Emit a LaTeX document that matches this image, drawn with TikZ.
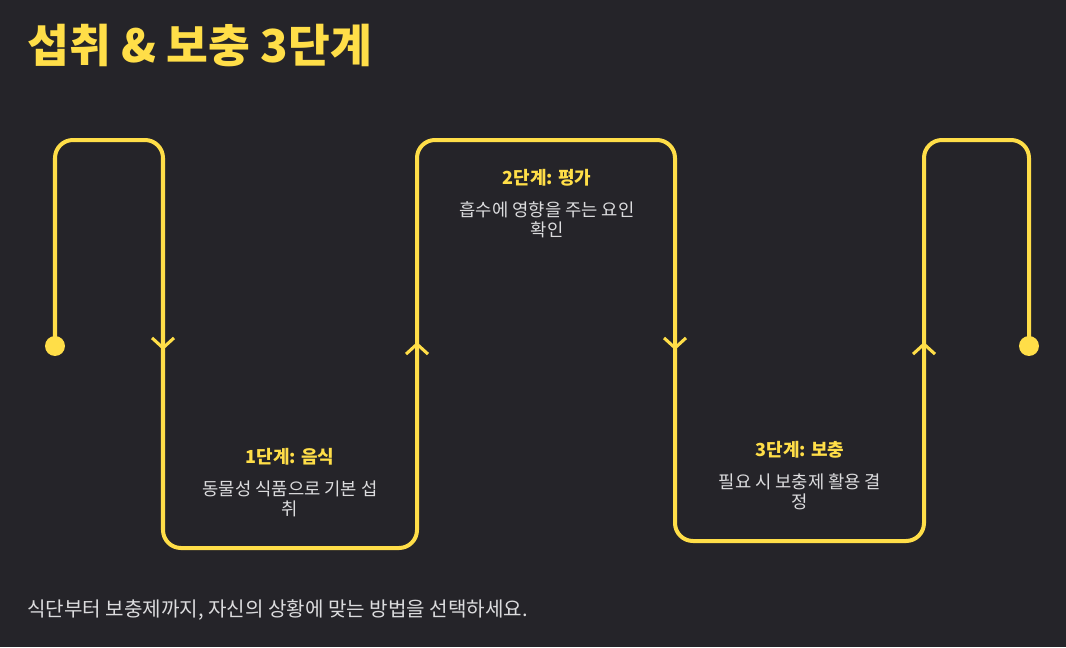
\documentclass[tikz,border=0pt]{standalone}
\usepackage{fontspec}
\setmainfont{Noto Sans CJK KR}
\usetikzlibrary{arrows.meta}

\definecolor{bg}{RGB}{37,36,41}
\definecolor{gold}{RGB}{255,222,72}
\definecolor{soft}{RGB}{220,220,222}

\tikzset{
  wire/.style={draw=gold, line width=2.85pt, rounded corners=12.8pt, line cap=round},
  tip/.style={draw=gold, line width=2.2pt, -{Straight Barb[length=7.1pt, width=15.6pt, line width=2.2pt]}},
  heading/.style={text=gold, font=\fontsize{12.8}{15}\selectfont\bfseries, inner sep=0pt},
  desc/.style={text=soft, font=\fontsize{12.6}{14.2}\selectfont, align=center, inner sep=0pt},
}

\begin{document}
\begin{tikzpicture}[x=0.025cm, y=-0.025cm]
\useasboundingbox (0,0) rectangle (1066,647);
\fill[bg] (0,0) rectangle (1066,647);

% corners of the snake
\coordinate (start) at (55,346);
\coordinate (c1) at (55,140);
\coordinate (c2) at (163,140);
\coordinate (c3) at (163,548);
\coordinate (c4) at (417,548);
\coordinate (c5) at (417,140);
\coordinate (c6) at (675,140);
\coordinate (c7) at (675,541);
\coordinate (c8) at (924,541);
\coordinate (c9) at (924,140);
\coordinate (c10) at (1029,140);
\coordinate (end) at (1029,346);

\draw[wire] (start) -- (c1) -- (c2) -- (c3) -- (c4) -- (c5) -- (c6) -- (c7) -- (c8) -- (c9) -- (c10) -- (end);
\fill[gold] (start) circle (7.1pt);
\fill[gold] (end) circle (7.1pt);

% arrow heads
\coordinate (a1) at (163,350);
\coordinate (a2) at (417,342);
\coordinate (a3) at (675,350);
\coordinate (a4) at (924,342);
\draw[tip] (163,320) -- (a1);
\draw[tip] (417,372) -- (a2);
\draw[tip] (675,320) -- (a3);
\draw[tip] (924,372) -- (a4);

\node[text=gold, font=\fontsize{32.3}{36}\selectfont\bfseries, anchor=west, inner sep=0pt] (title) at (27,46) {섭취 \& 보충 3단계};

\node[heading] (s1) at (290,457) {1단계: 음식};
\node[desc] (s1text) at (290,499) {동물성 식품으로 기본 섭\\취};

\node[heading] (s2) at (547,178) {2단계: 평가};
\node[desc] (s2text) at (547,220) {흡수에 영향을 주는 요인\\확인};

\node[heading] (s3) at (800,450) {3단계: 보충};
\node[desc] (s3text) at (800,492) {필요 시 보충제 활용 결\\정};

\node[text=soft, font=\fontsize{14.3}{17}\selectfont, anchor=west, inner sep=0pt] (footer) at (27,610) {식단부터 보충제까지, 자신의 상황에 맞는 방법을 선택하세요.};
\end{tikzpicture}
\end{document}
